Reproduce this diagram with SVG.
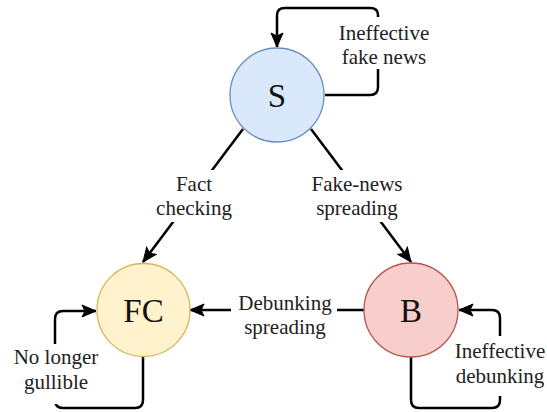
<svg xmlns="http://www.w3.org/2000/svg" width="547" height="412" viewBox="0 0 547 412">
<style>
.edge{fill:none;stroke:#000;stroke-width:2.5;stroke-linejoin:round}
.lbl{font-size:21px;fill:#222;text-anchor:middle}
.node{font-size:33px;fill:#111;text-anchor:middle}
.bg{fill:#fff}
</style>
<defs>
<marker id="arr" markerUnits="userSpaceOnUse" markerWidth="16" markerHeight="14" viewBox="0 0 16 14" refX="15" refY="7" orient="auto">
<path d="M1,1 L15,7 L1,13 L4,7 Z" fill="#000" stroke="#000" stroke-width="1"/>
</marker>
</defs>
<rect width="547" height="412" fill="#fff"/>
<g id="connectors">
<path class="edge" d="M325,95 H370 Q378,95 378,87 V15 Q378,8 370,8 H285 Q277,8 277,15 V47" marker-end="url(#arr)"/>
<path class="edge" d="M143,357 V400 Q143,408 135,408 H63 Q55,408 55,400 V319 Q55,311 63,311 H96" marker-end="url(#arr)"/>
<path class="edge" d="M411,357 V400 Q411,408 419,408 H492 Q500,408 500,400 V318 Q500,310 492,310 H459" marker-end="url(#arr)"/>
<path class="edge" d="M243,129 L143,262" marker-end="url(#arr)"/>
<path class="edge" d="M311,129 L411,262" marker-end="url(#arr)"/>
<path class="edge" d="M364,310 H190" marker-end="url(#arr)"/>
</g>
<g id="labels" font-family="Liberation Serif, serif">
<rect class="bg" x="334" y="17" width="98" height="52"/>
<text class="lbl" x="384" y="40">Ineffective</text>
<text class="lbl" x="384" y="64">fake news</text>
<rect class="bg" x="10" y="344" width="92" height="60"/>
<text class="lbl" x="56" y="364">No longer</text>
<text class="lbl" x="56" y="389">gullible</text>
<rect class="bg" x="452" y="336" width="95" height="60"/>
<text class="lbl" x="500" y="358">Ineffective</text>
<text class="lbl" x="500" y="383">debunking</text>
<rect class="bg" x="156" y="170" width="76" height="52"/>
<text class="lbl" x="194" y="191">Fact</text>
<text class="lbl" x="194" y="215">checking</text>
<rect class="bg" x="305" y="170" width="104" height="52"/>
<text class="lbl" x="357" y="191">Fake-news</text>
<text class="lbl" x="357" y="215">spreading</text>
<rect class="bg" x="231" y="290" width="106" height="50"/>
<text class="lbl" x="285" y="310">Debunking</text>
<text class="lbl" x="285" y="334">spreading</text>
</g>
<g id="node-S" font-family="Liberation Serif, serif">
<circle cx="277" cy="95" r="47" fill="#dae8fc" stroke="#6c8ebf" stroke-width="1.3"/>
<text class="node" x="277" y="107">S</text>
</g>
<g id="node-FC" font-family="Liberation Serif, serif">
<circle cx="143.5" cy="310" r="46.5" fill="#fff2cc" stroke="#d6b656" stroke-width="1.3"/>
<text class="node" x="143.5" y="322">FC</text>
</g>
<g id="node-B" font-family="Liberation Serif, serif">
<circle cx="411" cy="310" r="47" fill="#f8cecc" stroke="#b85450" stroke-width="1.3"/>
<text class="node" x="411" y="322">B</text>
</g>
</svg>
